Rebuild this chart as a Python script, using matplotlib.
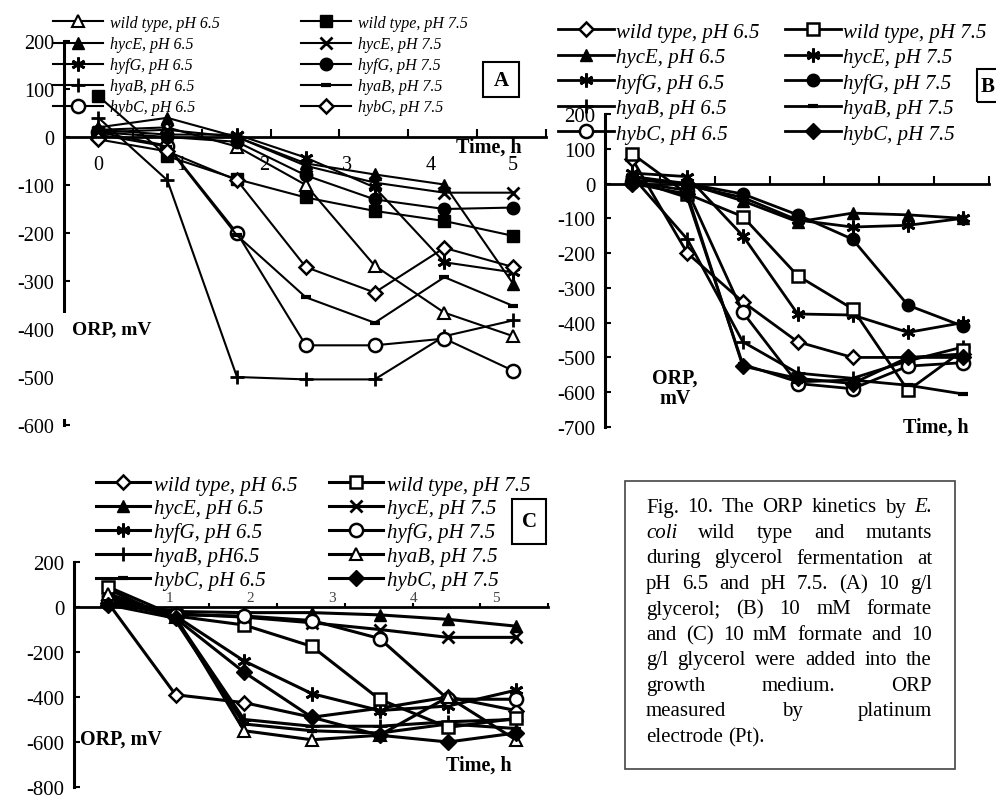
import matplotlib.pyplot as plt
from matplotlib.patches import Rectangle

plt.rcParams['font.family'] = ['Liberation Serif', 'DejaVu Serif']
plt.rcParams['axes.unicode_minus'] = False

W, H = 996, 804

# sampling every 50 min
time_h = [0, 0.83, 1.67, 2.5, 3.33, 4.17, 5.0]

# (A) 10 g/l glycerol
a_wt_65 = [15, 20, -20, -100, -268, -366, -415]
a_hyce_65 = [20, 40, 0, -55, -78, -99, -306]
a_hyfg_65 = [15, 5, 5, -43, -105, -261, -282]
a_hyab_65 = [40, -90, -500, -505, -505, -415, -382]
a_hybc_65 = [10, -18, -200, -434, -434, -420, -487]
a_wt_75 = [85, -40, -88, -126, -154, -175, -206]
a_hyce_75 = [10, 15, 0, -60, -95, -116, -116]
a_hyfg_75 = [10, 0, -10, -80, -130, -150, -147]
a_hyab_75 = [5, -20, -205, -334, -387, -292, -352]
a_hybc_75 = [-5, -30, -90, -271, -324, -231, -271]

# (B) 10 mM formate
b_wt_65 = [70, -200, -340, -455, -500, -500, -490]
b_hyce_65 = [20, 0, -50, -110, -85, -90, -100]
b_hyfg_65 = [30, 20, -150, -375, -378, -428, -400]
b_hyab_65 = [20, -160, -455, -545, -560, -510, -470]
b_hybc_65 = [5, -20, -370, -575, -590, -525, -515]
b_wt_75 = [85, -30, -95, -265, -360, -595, -480]
b_hyce_75 = [20, -5, -40, -105, -125, -120, -100]
b_hyfg_75 = [10, 0, -30, -90, -160, -350, -410]
b_hyab_75 = [10, -40, -520, -570, -565, -580, -605]
b_hybc_75 = [0, -30, -525, -560, -575, -500, -500]

# (C) 10 mM formate + 10 g/l glycerol
c_wt_65 = [20, -390, -425, -490, -450, -400, -460]
c_hyce_65 = [30, -20, -25, -25, -35, -55, -85]
c_hyfg_65 = [30, -40, -240, -385, -460, -440, -370]
c_hyab_65 = [50, -50, -500, -530, -530, -510, -500]
c_hybc_65 = [80, -60, -520, -550, -560, -520, -540]
c_wt_75 = [90, -40, -80, -175, -410, -535, -495]
c_hyce_75 = [40, -30, -45, -70, -100, -135, -135]
c_hyfg_75 = [20, -35, -40, -60, -140, -410, -410]
c_hyab_75 = [60, -45, -550, -590, -570, -400, -590]
c_hybc_75 = [10, -50, -290, -490, -570, -600, -560]

caption = [
    "Fig. 10. The ORP kinetics by E.",
    "coli wild type and mutants",
    "during glycerol fermentation at",
    "pH 6.5 and pH 7.5. (A) 10 g/l",
    "glycerol; (B) 10 mM formate",
    "and (C) 10 mM formate and 10",
    "g/l glycerol were added into the",
    "growth medium. ORP",
    "measured by platinum",
    "electrode (Pt).",
]

MK = {
    'tri_o': dict(marker='^', ms=9, mfc='white', mew=1.5),
    'tri_f': dict(marker='^', ms=9),
    'sq_f': dict(marker='s', ms=8.5),
    'sq_o': dict(marker='s', ms=9, mfc='white', mew=1.8),
    'x': dict(marker='x', ms=9, mew=2),
    'star': dict(marker=(6, 2, 0), ms=10, mew=2),
    'circ_f': dict(marker='o', ms=9),
    'circ_o': dict(marker='o', ms=9.5, mfc='white', mew=1.8),
    'plus': dict(marker='+', ms=10, mew=2),
    'dash': dict(marker='_', ms=7, mew=3),
    'dia_o': dict(marker='D', ms=7, mfc='white', mew=1.8),
    'dia_f': dict(marker='D', ms=8),
}


def fx(x):
    return x / W


def fy(y):
    return 1 - y / H


def px_axes(fig, left, top, right, bottom):
    return fig.add_axes([fx(left), fy(bottom), (right - left) / W, (bottom - top) / H])


def add_box(fig, left, top, right, bottom, lw=1.5, color='black'):
    fig.add_artist(Rectangle((fx(left), fy(bottom)), (right - left) / W, (bottom - top) / H,
                             transform=fig.transFigure, fill=False, lw=lw, ec=color,
                             clip_on=False))


def draw_panel(ax, series, ylim, ystep, lw, tick_size):
    step = time_h[1] - time_h[0]
    for label, vals, mk in series:
        ax.plot(time_h, vals, color='black', lw=lw, mec='black', mfc=MK[mk].get('mfc', 'black'),
                label=label, clip_on=False,
                **{k: v for k, v in MK[mk].items() if k != 'mfc'})
    ax.set_xlim(-0.5 * step, 6.5 * step)
    ax.set_ylim(*ylim)
    ax.patch.set_alpha(0)
    for s in ('top', 'right'):
        ax.spines[s].set_visible(False)
    ax.spines['bottom'].set_position(('data', 0))
    ax.spines['bottom'].set_linewidth(2)
    ax.spines['left'].set_linewidth(2.2)
    ax.set_xticks([(k + 0.5) * step for k in range(7)], minor=True)
    ax.set_xticks([])
    ax.tick_params(axis='x', which='minor', direction='in', length=6, width=1.5)
    ax.set_yticks(range(ylim[0], ylim[1] + 1, ystep))
    ax.tick_params(axis='y', direction='in', length=4, width=1.5, labelsize=tick_size, pad=7)


def add_legend(ax, fig, left, top, size, handlelength, textpad, colspace, rowspace):
    ax.legend(ncol=2, loc='upper left', bbox_to_anchor=(fx(left), fy(top)),
              bbox_transform=fig.transFigure, frameon=False, borderpad=0, borderaxespad=0,
              prop={'style': 'italic', 'size': size}, handlelength=handlelength,
              handletextpad=textpad, columnspacing=colspace, labelspacing=rowspace,
              numpoints=1)


def justified_text(fig, lines, left, right, top, step, size):
    renderer = fig.canvas.get_renderer()
    for i, line in enumerate(lines):
        words = line.split()
        arts = [fig.text(0, fy(top + i * step), w, fontsize=size, va='center',
                         style='italic' if w in ('E.', 'coli') else 'normal')
                for w in words]
        widths = [a.get_window_extent(renderer).width for a in arts]
        if i == len(lines) - 1:
            gap = size * 0.25 * 100 / 72
        else:
            gap = (right - left - sum(widths)) / (len(words) - 1)
        x = left
        for a, wd in zip(arts, widths):
            a.set_x(fx(x))
            x += wd + gap


fig = plt.figure(figsize=(W / 100, H / 100), dpi=100)

# ---- panel A
ax_a = px_axes(fig, 64, 42, 546, 426)
draw_panel(ax_a, [
    ('wild type, pH 6.5', a_wt_65, 'tri_o'),
    ('hycE, pH 6.5', a_hyce_65, 'tri_f'),
    ('hyfG, pH 6.5', a_hyfg_65, 'star'),
    ('hyaB, pH 6.5', a_hyab_65, 'plus'),
    ('hybC, pH 6.5', a_hybc_65, 'circ_o'),
    ('wild type, pH 7.5', a_wt_75, 'sq_f'),
    ('hycE, pH 7.5', a_hyce_75, 'x'),
    ('hyfG, pH 7.5', a_hyfg_75, 'circ_f'),
    ('hyaB, pH 7.5', a_hyab_75, 'dash'),
    ('hybC, pH 7.5', a_hybc_75, 'dia_o'),
], (-600, 200), 100, 1.5, 14.5)
ax_a.set_xticks(range(6))
ax_a.set_xticklabels([str(h) for h in range(6)])
ax_a.tick_params(axis='x', which='major', length=0, labelsize=14.5, pad=13)
add_legend(ax_a, fig, 53, 16, 11.5, 3.1, 0.45, 5.1, 0.32)
add_box(fig, 483, 63, 519, 98)
fig.text(fx(501), fy(81), 'A', fontsize=15, weight='bold', ha='center', va='center')
fig.add_artist(Rectangle((fx(58), fy(420)), 100 / W, 106 / H, transform=fig.transFigure,
                         fc='white', ec='none'))
fig.text(fx(72), fy(330), 'ORP, mV', fontsize=14, weight='bold', va='center')
fig.text(fx(522), fy(148), 'Time, h', fontsize=14.5, weight='bold', ha='right', va='center')

# ---- panel B
ax_b = px_axes(fig, 605, 115, 989, 428)
draw_panel(ax_b, [
    ('wild type, pH 6.5', b_wt_65, 'dia_o'),
    ('hycE, pH 6.5', b_hyce_65, 'tri_f'),
    ('hyfG, pH 6.5', b_hyfg_65, 'star'),
    ('hyaB, pH 6.5', b_hyab_65, 'plus'),
    ('hybC, pH 6.5', b_hybc_65, 'circ_o'),
    ('wild type, pH 7.5', b_wt_75, 'sq_o'),
    ('hycE, pH 7.5', b_hyce_75, 'star'),
    ('hyfG, pH 7.5', b_hyfg_75, 'circ_f'),
    ('hyaB, pH 7.5', b_hyab_75, 'dash'),
    ('hybC, pH 7.5', b_hybc_75, 'dia_f'),
], (-700, 200), 100, 2.0, 15)
add_legend(ax_b, fig, 558, 23, 15, 2.7, 0.1, 1.2, 0.28)
add_box(fig, 977, 70, 1010, 103)
fig.text(fx(988), fy(87), 'B', fontsize=15, weight='bold', ha='center', va='center')
fig.text(fx(675), fy(389), 'ORP,\nmV', fontsize=14.5, weight='bold', ha='center', va='center',
         linespacing=1.0)
fig.text(fx(969), fy(428), 'Time, h', fontsize=14.5, weight='bold', ha='right', va='center')

# ---- panel C
ax_c = px_axes(fig, 74, 563, 548, 788)
draw_panel(ax_c, [
    ('wild type, pH 6.5', c_wt_65, 'dia_o'),
    ('hycE, pH 6.5', c_hyce_65, 'tri_f'),
    ('hyfG, pH 6.5', c_hyfg_65, 'star'),
    ('hyaB, pH6.5', c_hyab_65, 'plus'),
    ('hybC, pH 6.5', c_hybc_65, 'dash'),
    ('wild type, pH 7.5', c_wt_75, 'sq_o'),
    ('hycE, pH 7.5', c_hyce_75, 'x'),
    ('hyfG, pH 7.5', c_hyfg_75, 'circ_o'),
    ('hyaB, pH 7.5', c_hyab_75, 'tri_o'),
    ('hybC, pH 7.5', c_hybc_75, 'dia_f'),
], (-800, 200), 200, 2.2, 15)
ax_c.tick_params(axis='x', which='minor', length=3)
for h in range(1, 6):
    ax_c.text(h - 0.25, 12, str(h), fontsize=11, color='#444', ha='center', va='bottom')
add_legend(ax_c, fig, 96, 476, 15, 2.6, 0.2, 1.5, 0.2)
add_box(fig, 512, 500, 546, 545)
fig.text(fx(529), fy(522), 'C', fontsize=15, weight='bold', ha='center', va='center')
fig.text(fx(80), fy(740), 'ORP, mV', fontsize=14.5, weight='bold', va='center')
fig.text(fx(512), fy(766), 'Time, h', fontsize=14.5, weight='bold', ha='right', va='center')

# ---- caption box
add_box(fig, 625, 482, 955, 770, lw=1.2, color='#444')
justified_text(fig, caption, 646, 932, 508, 25.5, 15)

fig.savefig('out.png', dpi=100)
